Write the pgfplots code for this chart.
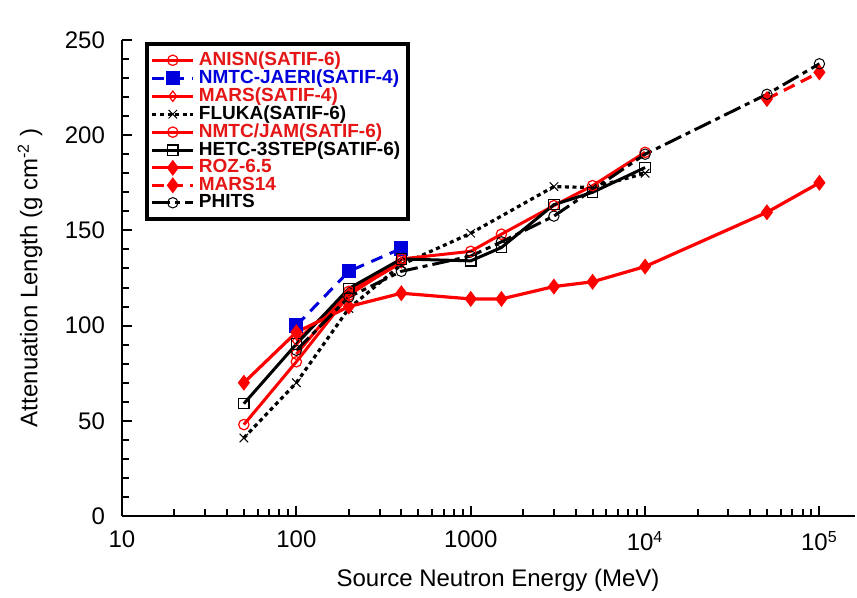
\documentclass[border=0pt]{standalone}
\usepackage{pgfplots}
\pgfplotsset{compat=1.18}
\usepackage{fontspec}
\setmainfont{Liberation Sans}
\definecolor{pred}{RGB}{255,0,0}
\definecolor{tred}{RGB}{228,22,22}
\definecolor{pblue}{RGB}{0,0,220}

\begin{document}
\begin{tikzpicture}
\begin{axis}[
  name=ax,
  scale only axis, width=366.5pt, height=238pt,
  xmode=log, xmin=10, xmax=1.6e5, ymin=0, ymax=250,
  axis x line*=bottom, axis y line*=left,
  axis line style={-, line width=1.4pt},
  tick align=inside,
  major tick length=5pt, minor tick length=3.3pt,
  every tick/.style={black, line width=1pt},
  xtick={10,100,1000,10000,100000},
  xticklabels={10,100,1000,10\textsuperscript{4},10\textsuperscript{5}},
  ytick={0,50,...,250}, minor y tick num=4,
  /pgf/number format/assume math mode=true,
  tick label style={font=\fontsize{12}{14}\selectfont},
  yticklabel style={xshift=-5pt},
  xticklabel style={yshift=-4pt},
  xlabel={Source Neutron Energy (MeV)},
  ylabel={Attenuation Length (g cm\textsuperscript{-2} )},
  label style={font=\fontsize{12}{14}\selectfont},
  xlabel style={at={(axis description cs:0.513,-0.1345)}, anchor=center},
  ylabel style={at={(axis description cs:-0.1255,0.5)}, anchor=center},
  legend style={at={(axis description cs:0.031,0.996)}, anchor=north west,
    draw=black, line width=2pt, font=\bfseries\fontsize{9.5}{10}\selectfont,
    inner sep=2pt, row sep=-3.4pt, cells={anchor=west}},
  legend image code/.code={\draw[mark repeat=2,mark phase=2] plot coordinates {(0cm,0cm)(0.36cm,0cm)(0.72cm,0cm)};},
]
\addplot[pred, line width=1.5pt, mark=o, mark size=2.6pt, mark options={line width=0.6pt, solid}]
  coordinates {(50,48) (100,81) (200,116) (400,134)};
\addlegendentry{\textcolor{tred}{ANISN(SATIF-6)}}

\addplot[pblue, line width=1.5pt, dash pattern=on 6pt off 4pt, mark=square*, mark size=2.8pt, mark options={solid}]
  coordinates {(100,100) (200,128.5) (400,140.5)};
\addlegendentry{\textcolor{pblue}{NMTC-JAERI(SATIF-4)}}

\addplot[pred, line width=1.5pt, mark=diamond, mark size=2.6pt, mark options={line width=0.6pt, solid}]
  coordinates {(100,92) (200,117) (400,133)};
\addlegendentry{\textcolor{tred}{MARS(SATIF-4)}}

\addplot[black, line width=1.6pt, dash pattern=on 2pt off 1.8pt, mark=x, mark size=3pt, mark options={line width=0.5pt, solid}]
  coordinates {(50,41) (100,70) (200,109) (400,132) (1000,148.5) (3000,173) (5000,172.5) (10000,180)};
\addlegendentry{FLUKA(SATIF-6)}

\addplot[pred, line width=1.5pt, mark=o, mark size=2.6pt, mark options={line width=0.6pt, solid}]
  coordinates {(100,85) (200,118) (400,135) (1000,139) (1500,148) (3000,163) (5000,173.5) (10000,191)};
\addlegendentry{\textcolor{tred}{NMTC/JAM(SATIF-6)}}

\addplot[black, line width=1.5pt, mark=square, mark size=2.6pt, mark options={line width=0.6pt, solid}]
  coordinates {(50,59) (100,90.3) (200,119.5) (400,135) (1000,134) (1500,141) (3000,163.5) (5000,170) (10000,183)};
\addlegendentry{HETC-3STEP(SATIF-6)}

\addplot[pred, line width=1.6pt, mark=diamond*, mark size=2.7pt, mark options={solid}]
  coordinates {(50,70) (100,96.5) (200,110) (400,117) (1000,114) (1500,114) (3000,120.5) (5000,123) (10000,131) (50000,159.5) (100000,175)};
\addlegendentry{\textcolor{tred}{ROZ-6.5}}

\addplot[pred, line width=1.6pt, dash pattern=on 6pt off 3.5pt, mark=diamond*, mark size=2.7pt, mark options={solid}]
  coordinates {(50000,219) (100000,233)};
\addlegendentry{\textcolor{tred}{MARS14}}

\addplot[black, line width=1.5pt, dash pattern=on 9pt off 2.5pt on 2.5pt off 2.5pt, mark=o, mark size=2.6pt, mark options={line width=0.5pt, solid}]
  coordinates {(100,87) (200,115) (400,128.5) (1000,136.5) (1500,144) (3000,157.5) (10000,190) (50000,221.5) (100000,237.5)};
\addlegendentry{PHITS}
\end{axis}
\pgfresetboundingbox
\path ([shift={(-61pt,-40.5pt)}]ax.south west) rectangle ([shift={(1pt,20pt)}]ax.north east);
\end{tikzpicture}
\end{document}
